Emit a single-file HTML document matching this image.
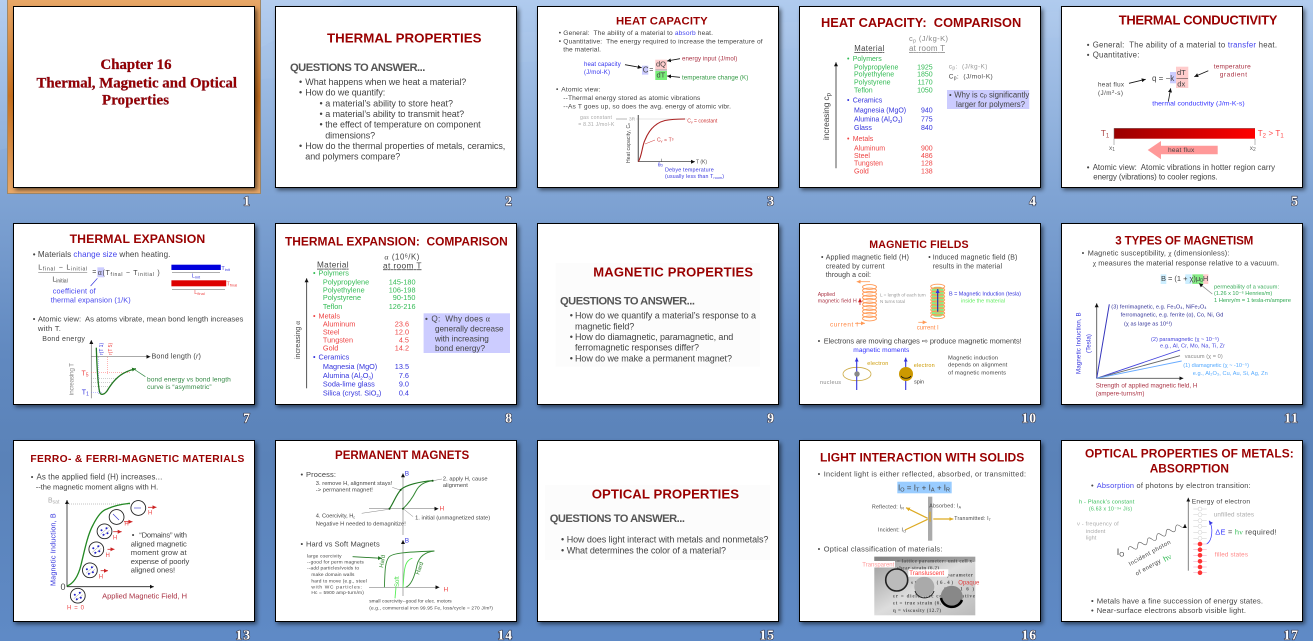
<!DOCTYPE html>
<html><head><meta charset="utf-8"><title>Slide Sorter</title>
<style>
html,body{margin:0;padding:0;width:1313px;height:641px;overflow:hidden;background:#6f96c9}
svg{display:block;font-family:"Liberation Sans",Arial,sans-serif}
text{fill:#444;white-space:pre}
.t{font-weight:bold;fill:#990000}
.q{font-weight:bold;fill:#555}
.n{font-family:"Liberation Serif",serif;font-weight:bold;font-size:13.5px;fill:#fff;text-anchor:end;paint-order:stroke;stroke:#334;stroke-width:1.2px;letter-spacing:1px}
.s{font-family:"Liberation Serif",serif}
.c{filter:url(#soft)}
.u{text-decoration:underline}
.gr{fill:#33bb55}.bl{fill:#3333dd}.re{fill:#ee4444}.mr{fill:#aa3344}.ly{fill:#999}
.e{text-anchor:end}.m{text-anchor:middle}
</style></head><body>
<svg width="1313" height="641" viewBox="0 0 1313 641" xmlns="http://www.w3.org/2000/svg">
<defs>
<linearGradient id="bg" x1="0" y1="0" x2="0" y2="1"><stop offset="0" stop-color="#b0cbee"/><stop offset=".3" stop-color="#80a4d4"/><stop offset=".55" stop-color="#6189c0"/><stop offset=".72" stop-color="#5a82b8"/><stop offset="1" stop-color="#5f8ac6"/></linearGradient>
<linearGradient id="or" x1="0" y1="0" x2="0" y2="1"><stop offset="0" stop-color="#e8a868"/><stop offset=".5" stop-color="#c8701e"/><stop offset="1" stop-color="#e8a868"/></linearGradient>
<linearGradient id="bar" x1="0" y1="0" x2="1" y2="0"><stop offset="0" stop-color="#990000"/><stop offset="1" stop-color="#ff0000"/></linearGradient>
<linearGradient id="im" x1="0" y1="0" x2="1" y2="1"><stop offset="0" stop-color="#999"/><stop offset=".5" stop-color="#ddd"/><stop offset="1" stop-color="#bbb"/></linearGradient>
<filter id="sh" x="-10%" y="-10%" width="120%" height="120%"><feGaussianBlur stdDeviation="2"/></filter>
<filter id="soft" x="-2%" y="-2%" width="104%" height="104%" color-interpolation-filters="sRGB"><feGaussianBlur stdDeviation=".38"/></filter>
<marker id="ak" markerUnits="userSpaceOnUse" markerWidth="5" markerHeight="5" refX="4" refY="2" orient="auto"><path d="M0 0L4 2L0 4Z" fill="#111"/></marker>
<marker id="ab" markerUnits="userSpaceOnUse" markerWidth="5" markerHeight="5" refX="4" refY="2" orient="auto"><path d="M0 0L4 2L0 4Z" fill="#3333dd"/></marker>
<marker id="ar" markerUnits="userSpaceOnUse" markerWidth="5" markerHeight="5" refX="4" refY="2" orient="auto"><path d="M0 0L4 2L0 4Z" fill="#cc2222"/></marker>
<marker id="ao" markerUnits="userSpaceOnUse" markerWidth="5" markerHeight="5" refX="4" refY="2" orient="auto"><path d="M0 0L4 2L0 4Z" fill="#ff9955"/></marker>
<marker id="ag" markerUnits="userSpaceOnUse" markerWidth="5" markerHeight="5" refX="4" refY="2" orient="auto"><path d="M0 0L4 2L0 4Z" fill="#227722"/></marker>
<marker id="ay" markerUnits="userSpaceOnUse" markerWidth="5" markerHeight="5" refX="4" refY="2" orient="auto"><path d="M0 0L4 2L0 4Z" fill="#ddaa22"/></marker>
<g id="coil" fill="none" stroke="#ff9955" stroke-width=".9"><ellipse cx="0" cy="0" rx="7" ry="2.4"/><ellipse cx="0" cy="3.5" rx="7" ry="2.4"/><ellipse cx="0" cy="7" rx="7" ry="2.4"/><ellipse cx="0" cy="10.5" rx="7" ry="2.4"/><ellipse cx="0" cy="14" rx="7" ry="2.4"/><ellipse cx="0" cy="17.5" rx="7" ry="2.4"/><ellipse cx="0" cy="21" rx="7" ry="2.4"/><ellipse cx="0" cy="24.5" rx="7" ry="2.4"/><ellipse cx="0" cy="28" rx="7" ry="2.4"/><ellipse cx="0" cy="31.5" rx="7" ry="2.4"/></g>
<g id="dom"><circle r="7.4" fill="#fff" stroke="#222" stroke-width=".9"/><path d="M-4 3L4 -4M-2 5L5 -1" stroke="#999" stroke-width=".5"/><circle cx="-3" cy="-1" r="1" fill="#22c"/><circle cx="2" cy="-3" r="1" fill="#22c"/><circle cx="3" cy="2" r="1" fill="#22c"/><circle cx="-1" cy="3.5" r="1" fill="#22c"/></g>
<g id="fr"><rect x="2" y="3" width="242" height="181" fill="#000" opacity=".55" filter="url(#sh)"/><rect x=".5" y=".5" width="241" height="181" fill="#fff" stroke="#000" stroke-width="1"/></g>
</defs>
<rect width="1313" height="641" fill="url(#bg)"/>
<path d="M0 150C110 120 250 60 345 0L0 0Z" fill="#fff" opacity=".05"/>
<path d="M250 45C520 30 900 20 1313 0L1313 30C900 40 520 60 250 80Z" fill="#fff" opacity=".03"/>
<rect x="7.5" y="-1" width="253" height="194.5" fill="url(#or)" stroke="#a08868" stroke-width="1"/>

<!-- 1 -->
<g transform="translate(13,6)"><use href="#fr"/>
<g class="c s">
<text class="t s" x="123" y="63" font-size="14.8" text-anchor="middle" textLength="71" style="stroke:#66001a;stroke-width:.25">Chapter 16</text>
<text class="t s" x="23.5" y="81.3" font-size="14.8" textLength="200.5" style="stroke:#66001a;stroke-width:.25">Thermal, Magnetic and Optical</text>
<text class="t s" x="89" y="98.3" font-size="14.8" textLength="67" style="stroke:#66001a;stroke-width:.25">Properties</text>
</g><text class="n" x="238" y="199.7">1</text></g>

<!-- 2 -->
<g transform="translate(275,6)"><use href="#fr"/><g class="c">
<text class="t" x="52" y="36.7" font-size="13.3" textLength="154.5">THERMAL PROPERTIES</text>
<text class="q" x="15" y="65" font-size="11.2" textLength="135.3">QUESTIONS TO ANSWER...</text>
<g font-size="9"><text x="24" y="79">•</text><text x="30.3" y="79" textLength="161">What happens when we heat a material?</text>
<text x="24" y="89.7">•</text><text x="30.3" y="89.7" textLength="80">How do we quantify:</text>
<text x="44.5" y="100.3">•</text><text x="50.2" y="100.3" textLength="127.8">a material’s ability to store heat?</text>
<text x="44.5" y="111">•</text><text x="50.2" y="111" textLength="139">a material’s ability to transmit heat?</text>
<text x="44.5" y="121.7">•</text><text x="50.2" y="121.7" textLength="155.5">the effect of temperature on component</text>
<text x="50.2" y="132.3" textLength="50">dimensions?</text>
<text x="24" y="143">•</text><text x="30.3" y="143" textLength="200">How do the thermal properties of metals, ceramics,</text>
<text x="30.3" y="153.7" textLength="95">and polymers compare?</text></g>
</g><text class="n" x="238" y="199.7">2</text></g>

<!-- 3 -->
<g transform="translate(537,6)"><use href="#fr"/><g class="c">
<text class="t" x="79" y="18.7" font-size="11.3" textLength="91.7">HEAT CAPACITY</text>
<g font-size="6.6"><text x="21.7" y="29">•</text><text x="26.3" y="29" textLength="149.7">General:  The ability of a material to <tspan fill="#4444ee" style="fill:#4444ee">absorb</tspan> heat.</text>
<text x="21.7" y="37.3">•</text><text x="26.3" y="37.3" textLength="199.3">Quantitative:  The energy required to increase the temperature of</text>
<text x="26.3" y="45.7" textLength="37.7">the material.</text>
<text x="19" y="85.7">•</text><text x="24.3" y="85.7" textLength="39">Atomic view:</text>
<text x="26.3" y="94" textLength="137">--Thermal energy stored as atomic vibrations</text>
<text x="26.3" y="102.3" textLength="167.7">--As T goes up, so does the avg. energy of atomic vibr.</text></g>
<text x="47" y="60" font-size="6" style="fill:#3333ee" textLength="36.7">heat capacity</text>
<text x="47" y="68" font-size="6" style="fill:#3333ee" textLength="26">(J/mol-K)</text>
<line x1="88" y1="58.7" x2="104.7" y2="61.7" stroke="#111" stroke-width=".8" marker-end="url(#ak)"/>
<rect x="105" y="59.7" width="6.3" height="9" fill="#ccccff"/>
<text x="105.7" y="66.3" font-size="8">C</text><text x="112.3" y="66" font-size="7">=</text>
<rect x="118.3" y="53.7" width="11.7" height="9.6" fill="#ffcccc"/><rect x="118.3" y="65" width="11.7" height="9" fill="#77ee77"/>
<line x1="118.3" y1="64" x2="130" y2="64" stroke="#222" stroke-width=".5"/>
<text x="119" y="60.6" font-size="7.5">dQ</text><text x="119.5" y="71.7" font-size="7.5">dT</text>
<line x1="143" y1="52.7" x2="130" y2="55" stroke="#111" stroke-width=".8" marker-end="url(#ak)"/>
<line x1="143" y1="71.3" x2="130" y2="70" stroke="#111" stroke-width=".8" marker-end="url(#ak)"/>
<text class="mr" x="145" y="54.7" font-size="6.1" textLength="55.3">energy input (J/mol)</text>
<text x="145" y="73.3" font-size="6.3" style="fill:#339944" textLength="66.3">temperature change (K)</text>
<text x="43" y="113" font-size="5.2" style="fill:#aaa" textLength="32">gas constant</text>
<text x="41.3" y="120" font-size="5.2" style="fill:#aaa" textLength="36">= 8.31 J/mol-K</text>
<line x1="79" y1="113" x2="90" y2="113" stroke="#888" stroke-width=".6"/>
<text x="92" y="114.5" font-size="4.8" style="fill:#999">3R</text>
<line x1="99" y1="113" x2="150" y2="113" stroke="#ccc" stroke-width=".5"/>
<line x1="101.3" y1="109" x2="101.3" y2="155.7" stroke="#666" stroke-width="1.2"/>
<line x1="101.3" y1="155.7" x2="158" y2="155.7" stroke="#222" stroke-width=".7" marker-end="url(#ak)"/>
<text x="159" y="157.5" font-size="5">T (K)</text>
<path d="M101.3 155.7C105 150 105 140 108 134C112 124 118 117 128 114.5C134 113.3 142 113 148 113" fill="none" stroke="#aa2222" stroke-width="1.1"/>
<text x="150.3" y="116.7" font-size="5" style="fill:#cc3333">C<tspan font-size="3.5" dy="1">v</tspan><tspan dy="-1"> = constant</tspan></text>
<text x="120" y="135.7" font-size="5" style="fill:#cc3333">C<tspan font-size="3.5" dy="1">v</tspan><tspan dy="-1"> ∝ T³</tspan></text>
<line x1="108" y1="138" x2="118" y2="134" stroke="#cc3333" stroke-width=".5"/>
<text transform="translate(93,157) rotate(-90)" font-size="5" textLength="40">Heat capacity, C<tspan font-size="3.5">v</tspan></text>
<line x1="124.3" y1="152.7" x2="124.3" y2="155.7" stroke="#555" stroke-width=".5"/>
<text x="120.7" y="160.7" font-size="5" class="bl">θ<tspan font-size="3.5">D</tspan></text>
<text x="128" y="165.3" font-size="5.4" class="bl" textLength="48.7">Debye temperature</text>
<text x="128" y="172" font-size="5.2" class="bl" textLength="59">(usually less than T<tspan font-size="3.5" dy="1">room</tspan><tspan dy="-1">)</tspan></text>
</g><text class="n" x="238" y="199.7">3</text></g>

<!-- 4 -->
<g transform="translate(799,6)"><use href="#fr"/><g class="c">
<text class="t" x="22" y="21" font-size="12.8" textLength="200.3">HEAT CAPACITY:  COMPARISON</text>
<text x="110" y="35" font-size="7.5" style="fill:#888" textLength="39">c<tspan font-size="5" dy="1.5">p</tspan><tspan dy="-1.5"> (J/kg-K)</tspan></text>
<text class="u" x="110" y="45" font-size="8" style="fill:#888" textLength="36">at room T</text>
<text class="u" x="55.3" y="45" font-size="7.8" textLength="30">Material</text>
<g font-size="7">
<text class="gr" x="48" y="55">•</text><text class="gr" x="53.7" y="55" textLength="29">Polymers</text>
<text class="gr" x="55" y="63.3">Polypropylene</text><text class="gr e" x="133.7" y="63.3">1925</text>
<text class="gr" x="55" y="70.7">Polyethylene</text><text class="gr e" x="133.7" y="70.7">1850</text>
<text class="gr" x="55" y="78.3">Polystyrene</text><text class="gr e" x="133.7" y="78.3">1170</text>
<text class="gr" x="55" y="86.3">Teflon</text><text class="gr e" x="133.7" y="86.3">1050</text>
<text class="bl" x="48" y="96.3">•</text><text class="bl" x="53.7" y="96.3">Ceramics</text>
<text class="bl" x="55" y="106.3">Magnesia (MgO)</text><text class="bl e" x="133.7" y="106.3">940</text>
<text class="bl" x="55" y="115.3">Alumina (Al<tspan font-size="4.5" dy="1.5">2</tspan><tspan dy="-1.5">O</tspan><tspan font-size="4.5" dy="1.5">3</tspan><tspan dy="-1.5">)</tspan></text><text class="bl e" x="133.7" y="115.3">775</text>
<text class="bl" x="55" y="124">Glass</text><text class="bl e" x="133.7" y="124">840</text>
<text class="re" x="48" y="135">•</text><text class="re" x="53.7" y="135">Metals</text>
<text class="re" x="55" y="144.3">Aluminum</text><text class="re e" x="133.7" y="144.3">900</text>
<text class="re" x="55" y="152">Steel</text><text class="re e" x="133.7" y="152">486</text>
<text class="re" x="55" y="159.7">Tungsten</text><text class="re e" x="133.7" y="159.7">128</text>
<text class="re" x="55" y="167.7">Gold</text><text class="re e" x="133.7" y="167.7">138</text>
</g>
<line x1="37" y1="162.3" x2="37" y2="56.3" stroke="#555" stroke-width="1" marker-end="url(#ak)"/>
<text transform="translate(30,134) rotate(-90)" font-size="8.4" textLength="47">increasing c<tspan font-size="6" dy="1.5">p</tspan></text>
<text x="149.7" y="62.3" font-size="6.5" style="fill:#999" textLength="38.7">c<tspan font-size="5" dy="1">p</tspan><tspan dy="-1">:  (J/kg-K)</tspan></text>
<text x="149.7" y="72.7" font-size="6.5" textLength="44">C<tspan font-size="5" dy="1">p</tspan><tspan dy="-1">:  (J/mol-K)</tspan></text>
<rect x="148" y="84" width="82.3" height="19" fill="#ccccff"/>
<text x="150" y="91.7" font-size="7.5">•</text><text x="155.3" y="91.7" font-size="7.8" textLength="75">Why is c<tspan font-size="5.5">p</tspan> significantly</text>
<text x="157" y="101" font-size="7.8" textLength="69">larger for polymers?</text>
</g><text class="n" x="238" y="199.7">4</text></g>

<!-- 5 -->
<g transform="translate(1061,6)"><use href="#fr"/><g class="c">
<text class="t" x="57.7" y="18.3" font-size="13" textLength="158.7">THERMAL CONDUCTIVITY</text>
<g font-size="7.8"><text x="25.7" y="41.3">•</text><text x="31.7" y="41.3" textLength="184.3">General:  The ability of a material to <tspan style="fill:#4444ee">transfer</tspan> heat.</text>
<text x="25.7" y="51.3">•</text><text x="31.7" y="51.3" textLength="46.7">Quantitative:</text>
<text x="25.7" y="164">•</text><text x="31.7" y="164" textLength="182.3">Atomic view:  Atomic vibrations in hotter region carry</text>
<text x="32.3" y="173.7" textLength="124.3">energy (vibrations) to cooler regions.</text></g>
<rect x="109" y="66" width="6" height="11.3" fill="#ccccff"/><rect x="115" y="60.7" width="12.3" height="21.3" fill="#ffcccc"/>
<text x="91" y="75" font-size="8">q = −k</text>
<text x="116" y="69" font-size="7.5">dT</text><line x1="115.5" y1="72.3" x2="127" y2="72.3" stroke="#333" stroke-width=".5"/><text x="116.3" y="80.7" font-size="7.5">dx</text>
<text x="37" y="80.7" font-size="6.3" textLength="26">heat flux</text>
<text x="37" y="89" font-size="6.3" textLength="25">(J/m<tspan font-size="4.2" dy="-2">2</tspan><tspan dy="2">-s)</tspan></text>
<line x1="68" y1="77.3" x2="84.7" y2="73.3" stroke="#111" stroke-width=".8" marker-end="url(#ak)"/>
<text class="mr" x="152.7" y="62.3" font-size="6.5" textLength="37">temperature</text>
<text class="mr" x="158.7" y="70.7" font-size="6.5" textLength="27.3">gradient</text>
<line x1="147.3" y1="64.7" x2="133.3" y2="70.7" stroke="#111" stroke-width=".8" marker-end="url(#ak)"/>
<line x1="107.3" y1="95.7" x2="109.7" y2="82.3" stroke="#111" stroke-width=".8" marker-end="url(#ak)"/>
<text x="91.3" y="99.7" font-size="6.8" style="fill:#3333ff" textLength="92.3">thermal conductivity (J/m-K-s)</text>
<rect x="53" y="122.3" width="141" height="10.4" fill="url(#bar)"/>
<path d="M53 139V122.3H194M194 132.7V139" fill="none" stroke="#777" stroke-width=".5"/>
<text x="39.7" y="130" font-size="8.5" style="fill:#aa4444">T<tspan font-size="6" dy="1.5">1</tspan></text>
<text x="196.7" y="130" font-size="8" style="fill:#ff4444" textLength="26">T<tspan font-size="6" dy="1.5">2</tspan><tspan dy="-1.5"> &gt; T</tspan><tspan font-size="6" dy="1.5">1</tspan></text>
<text x="48" y="144" font-size="6.5" style="fill:#666">x<tspan font-size="5" dy="1">1</tspan></text>
<text x="188.7" y="144" font-size="6.5" style="fill:#666">x<tspan font-size="5" dy="1">2</tspan></text>
<path d="M86.7 144L100 135V139.7H156.7V148.3H100V153.3Z" fill="#ff9999"/>
<text x="107" y="146" font-size="6.6" textLength="26.3">heat flux</text>
</g><text class="n" x="238" y="199.7">5</text></g>

<!-- 7 -->
<g transform="translate(13,223)"><use href="#fr"/><g class="c">
<text class="t" x="56.6" y="20" font-size="12.25" textLength="135.6">THERMAL EXPANSION</text>
<text x="19.8" y="34" font-size="8">•</text><text x="24.9" y="34" font-size="8.1" textLength="132.5">Materials <tspan style="fill:#4444ee">change size</tspan> when heating.</text>
<text x="25.2" y="46.3" font-size="7" textLength="49">L<tspan font-size="5" dy="1">final</tspan><tspan dy="-1"> − L</tspan><tspan font-size="5" dy="1">initial</tspan></text>
<line x1="25.2" y1="49.3" x2="74.2" y2="49.3" stroke="#666" stroke-width=".5"/>
<text x="39.4" y="58.3" font-size="7">L<tspan font-size="5" dy="1">initial</tspan></text>
<rect x="84.4" y="44.3" width="6.7" height="10" fill="#ccccff"/>
<text x="79.3" y="51" font-size="7">=</text>
<text x="84.7" y="52" font-size="7" textLength="62">α(T<tspan font-size="5" dy="1">final</tspan><tspan dy="-1"> − T</tspan><tspan font-size="5" dy="1">initial</tspan><tspan dy="-1"> )</tspan></text>
<line x1="84.4" y1="55.3" x2="77.6" y2="63" stroke="#3333dd" stroke-width=".7"/>
<text x="39.7" y="70.7" font-size="7.3" style="fill:#4444ee" textLength="43">coefficient of</text>
<text x="37.7" y="79.7" font-size="7.3" style="fill:#4444ee" textLength="80">thermal expansion (1/K)</text>
<rect x="158.4" y="41.7" width="49.4" height="5.3" fill="#0000dd"/>
<text x="208.4" y="47" font-size="5.5" class="bl">T<tspan font-size="4" dy="1">init</tspan></text>
<line x1="159" y1="49.7" x2="207" y2="49.7" stroke="#333" stroke-width=".4"/>
<text class="bl m" x="183" y="54.3" font-size="5.5">L<tspan font-size="4" dy="1">init</tspan></text>
<rect x="158.4" y="57.3" width="54.8" height="6" fill="#dd0000"/>
<text x="213.5" y="62.7" font-size="5.5" class="re">T<tspan font-size="4" dy="1">final</tspan></text>
<line x1="159" y1="66.3" x2="212" y2="66.3" stroke="#333" stroke-width=".4"/>
<text class="re m" x="186.5" y="71" font-size="5.5">L<tspan font-size="4" dy="1">final</tspan></text>
<text x="19.8" y="98.7" font-size="7.5">•</text><text x="24.9" y="98.7" font-size="7.7" textLength="205.5">Atomic view:  As atoms vibrate, mean bond length increases</text>
<text x="24.9" y="108" font-size="7.7" textLength="23">with T.</text>
<text x="29.3" y="118" font-size="7" textLength="42.6">Bond energy</text>
<line x1="78.3" y1="175.3" x2="78.3" y2="117" stroke="#777" stroke-width=".7" marker-end="url(#ak)"/>
<line x1="78.3" y1="133.7" x2="137.4" y2="133.7" stroke="#777" stroke-width=".7" marker-end="url(#ak)"/>
<text x="138.5" y="135.7" font-size="7.2" textLength="49.4">Bond length (<tspan font-style="italic">r</tspan>)</text>
<text transform="translate(90,132) rotate(-90)" font-size="5" class="bl">r(T 1)</text>
<text transform="translate(99,132) rotate(-90)" font-size="5" class="re">r(T 5)</text>
<line x1="85.7" y1="134" x2="85.7" y2="172" stroke="#66f" stroke-width=".4" stroke-dasharray="1 1"/>
<line x1="94.5" y1="134" x2="94.5" y2="152" stroke="#f44" stroke-width=".4" stroke-dasharray="1 1"/>
<g stroke-width=".4" stroke-dasharray="1 1" fill="none"><line x1="78" y1="149.7" x2="118" y2="149.7" stroke="#f44"/><line x1="78" y1="155.3" x2="104" y2="155.3" stroke="#888"/><line x1="78" y1="159.7" x2="100" y2="159.7" stroke="#888"/><line x1="78" y1="163.7" x2="97" y2="163.7" stroke="#888"/><line x1="78" y1="169.7" x2="90" y2="169.7" stroke="#66f"/></g>
<text x="68.5" y="152.3" font-size="7" class="re">T<tspan font-size="5" dy="1">5</tspan></text>
<text x="68.8" y="171.3" font-size="7" class="bl">T<tspan font-size="5" dy="1">1</tspan></text>
<text transform="translate(60.7,172) rotate(-90)" font-size="6.4" style="fill:#888" textLength="32">increasing T</text>
<path d="M83.3 124.7C84 145 85 165 87 170C88 172 91 172 94 168C100 158 107 149 123 145.8" fill="none" stroke="#227722" stroke-width="1.3" marker-end="url(#ag)"/>
<line x1="132.4" y1="153.7" x2="121.5" y2="146.5" stroke="#338844" stroke-width=".7"/>
<text x="134" y="158.7" font-size="6.6" style="fill:#338844" textLength="83.8">bond energy vs bond length</text>
<text x="134" y="166" font-size="6.6" style="fill:#338844" textLength="64.6">curve is “asymmetric”</text>
</g><text class="n" x="238" y="199.7">7</text></g>

<!-- 8 -->
<g transform="translate(275,223)"><use href="#fr"/><g class="c">
<text class="t" x="10" y="22.3" font-size="11.95" textLength="222.8">THERMAL EXPANSION:  COMPARISON</text>
<text x="109.4" y="36.3" font-size="7.8" textLength="35"><tspan class="s">α</tspan> (10<tspan font-size="5" dy="-2">6</tspan><tspan dy="2">/K)</tspan></text>
<text class="u" x="108" y="45.3" font-size="8.4" textLength="38.5">at room T</text>
<text class="u" x="42" y="44.7" font-size="8.2" textLength="31.6">Material</text>
<g font-size="7.3">
<text class="gr" x="38" y="52.7">•</text><text class="gr" x="43.5" y="52.7">Polymers</text>
<text class="gr" x="47.9" y="61.7">Polypropylene</text><text class="gr e" x="140.5" y="61.7">145-180</text>
<text class="gr" x="47.9" y="69.3">Polyethylene</text><text class="gr e" x="140.5" y="69.3">106-198</text>
<text class="gr" x="47.9" y="77">Polystyrene</text><text class="gr e" x="140.5" y="77">90-150</text>
<text class="gr" x="47.9" y="86">Teflon</text><text class="gr e" x="140.5" y="86">126-216</text>
<text class="re" x="38" y="95.7">•</text><text class="re" x="43.5" y="95.7">Metals</text>
<text class="re" x="47.9" y="103.7">Aluminum</text><text class="re e" x="134" y="103.7">23.6</text>
<text class="re" x="47.9" y="111.3">Steel</text><text class="re e" x="134" y="111.3">12.0</text>
<text class="re" x="47.9" y="119.3">Tungsten</text><text class="re e" x="134" y="119.3">4.5</text>
<text class="re" x="47.9" y="127.3">Gold</text><text class="re e" x="134" y="127.3">14.2</text>
<text class="bl" x="38" y="136.3">•</text><text class="bl" x="43.5" y="136.3">Ceramics</text>
<text class="bl" x="47.9" y="146">Magnesia (MgO)</text><text class="bl e" x="134" y="146">13.5</text>
<text class="bl" x="47.9" y="155">Alumina (Al<tspan font-size="4.5" dy="1.5">2</tspan><tspan dy="-1.5">O</tspan><tspan font-size="4.5" dy="1.5">3</tspan><tspan dy="-1.5">)</tspan></text><text class="bl e" x="134" y="155">7.6</text>
<text class="bl" x="47.9" y="163.3">Soda-lime glass</text><text class="bl e" x="134" y="163.3">9.0</text>
<text class="bl" x="47.9" y="172.3">Silica (cryst. SiO<tspan font-size="4.5" dy="1.5">2</tspan><tspan dy="-1.5">)</tspan></text><text class="bl e" x="134" y="172.3">0.4</text>
</g>
<line x1="31.6" y1="165.3" x2="31.6" y2="55.3" stroke="#555" stroke-width="1" marker-end="url(#ak)"/>
<text transform="translate(24.9,136) rotate(-90)" font-size="7.2" textLength="38">increasing <tspan class="s">α</tspan></text>
<rect x="148.6" y="90.3" width="86.4" height="39.7" fill="#ccccff"/>
<g font-size="8.2"><text x="150" y="98.7">•</text><text x="156.4" y="98.7" textLength="58.5">Q:  Why does <tspan class="s">α</tspan></text>
<text x="160" y="108.3" textLength="68.6">generally decrease</text>
<text x="160" y="118.3" textLength="53.8">with increasing</text>
<text x="160" y="128" textLength="50">bond energy?</text></g>
</g><text class="n" x="238" y="199.7">8</text></g>

<!-- 9 -->
<g transform="translate(537,223)"><use href="#fr"/><rect x="18.7" y="40" width="204.3" height="103.7" fill="#fcfcfc"/><g class="c">
<text class="t" x="56.3" y="53.3" font-size="13" textLength="159.7">MAGNETIC PROPERTIES</text>
<text class="q" x="23" y="81.3" font-size="11.15" textLength="135">QUESTIONS TO ANSWER...</text>
<g font-size="9"><text x="32.7" y="95.7">•</text><text x="38" y="95.7" textLength="181">How do we quantify a material’s response to a</text>
<text x="38" y="106.3" textLength="59.3">magnetic field?</text>
<text x="32.7" y="117">•</text><text x="38" y="117" textLength="158.3">How do diamagnetic, paramagnetic, and</text>
<text x="38" y="127.7" textLength="124">ferromagnetic responses differ?</text>
<text x="32.7" y="138.3">•</text><text x="38" y="138.3" textLength="157">How do we make a permanent magnet?</text></g>
</g><text class="n" x="238" y="199.7">9</text></g>

<!-- 10 -->
<g transform="translate(799,223)"><use href="#fr"/><g class="c">
<text class="t" x="70.3" y="25" font-size="10.6" textLength="99.3">MAGNETIC FIELDS</text>
<g font-size="7"><text x="22" y="36.7">•</text><text x="26.7" y="36.7" textLength="83.3">Applied magnetic field (H)</text>
<text x="26.7" y="45.3" textLength="58.7">created by current</text>
<text x="26.7" y="54" textLength="45.3">through a coil:</text>
<text x="129.3" y="36.7">•</text><text x="133.7" y="36.7" textLength="84.7">Induced magnetic field (B)</text>
<text x="133.7" y="45.3" textLength="69.3">results in the material</text>
<text x="18.7" y="120.3">•</text><text x="24.7" y="120.3" font-size="7.4" textLength="198">Electrons are moving charges ⇨ produce magnetic moments!</text></g>
<use href="#coil" transform="translate(70.5,64)"/>
<line x1="71" y1="58.7" x2="57.7" y2="58.7" stroke="#ff9955" stroke-width=".8" marker-end="url(#ao)"/>
<line x1="56" y1="100.3" x2="66" y2="100.3" stroke="#ff9955" stroke-width=".8" marker-end="url(#ao)"/>
<text x="31" y="103.3" font-size="6.4" style="fill:#ff8844" textLength="28">current I</text>
<text class="mr" x="18.7" y="73" font-size="5.2">Applied</text>
<text class="mr" x="18.7" y="79.7" font-size="5.2" textLength="39">magnetic field H</text>
<line x1="61" y1="82" x2="61" y2="75.3" stroke="#cc2222" stroke-width=".8" marker-end="url(#ar)"/>
<text x="81" y="73.7" font-size="4.6" style="fill:#999" textLength="45.7">L = length of each turn</text>
<text x="81" y="80" font-size="4.6" style="fill:#999" textLength="25">N turns total</text>
<rect x="132.7" y="63.7" width="12" height="30" rx="4" fill="#88ee88"/>
<use href="#coil" transform="translate(138.7,63.5) scale(1,.95)"/>
<line x1="138.7" y1="88.7" x2="138.7" y2="66" stroke="#2222aa" stroke-width="1.1" marker-end="url(#ab)"/>
<line x1="119.3" y1="99.3" x2="127.7" y2="99.3" stroke="#ff9955" stroke-width=".8" marker-end="url(#ao)"/>
<text x="117.7" y="106.7" font-size="6" style="fill:#ff8844" textLength="22">current I</text>
<text x="150" y="72.3" font-size="5.5" class="bl" textLength="72">B = Magnetic Induction (tesla)</text>
<text x="162" y="79.3" font-size="5.5" style="fill:#66ee66" textLength="44">inside the material</text>
<text x="54.3" y="129" font-size="6.6" style="fill:#3333ff" textLength="56">magnetic moments</text>
<ellipse cx="58" cy="151" rx="14" ry="6.7" fill="none" stroke="#ccaa44" stroke-width=".8"/>
<line x1="57.7" y1="167" x2="57.7" y2="134.7" stroke="#3333dd" stroke-width="1.1" marker-end="url(#ab)"/>
<circle cx="58" cy="151" r="2.7" fill="#888"/>
<text x="68.3" y="142" font-size="5.5" style="fill:#cc9900" textLength="21">electron</text>
<text x="21" y="161" font-size="5.5" style="fill:#888" textLength="21">nucleus</text>
<line x1="106.7" y1="167" x2="106.7" y2="134.7" stroke="#3333dd" stroke-width="1.1" marker-end="url(#ab)"/>
<circle cx="107" cy="151" r="7" fill="#cc9900"/>
<path d="M102 153C104 156 110 156 112 153" fill="none" stroke="#111" stroke-width=".8"/>
<text x="114.7" y="144" font-size="5.5" style="fill:#cc9900" textLength="21">electron</text>
<text x="115" y="160.3" font-size="5.5">spin</text>
<g font-size="5.8"><text x="149" y="136.3" textLength="50">Magnetic induction</text><text x="149" y="143.7" textLength="59.3">depends on alignment</text><text x="149" y="151.3" textLength="58">of magnetic moments</text></g>
</g><text class="n" x="238" y="199.7">10</text></g>

<!-- 11 -->
<g transform="translate(1061,223)"><use href="#fr"/><g class="c">
<text class="t" x="54.3" y="21.7" font-size="11.6" textLength="138">3 TYPES OF MAGNETISM</text>
<text x="20.7" y="32.3" font-size="7">•</text><text x="26.7" y="32.3" font-size="7.3" textLength="141.7">Magnetic susceptibility, <tspan class="s">χ</tspan> (dimensionless):</text>
<text x="31.7" y="42.7" font-size="7.4" textLength="186.3"><tspan class="s">χ</tspan> measures the material response relative to a vacuum.</text>
<rect x="99.7" y="51.3" width="5.6" height="9.7" fill="#cceeff"/><rect x="124.3" y="51.3" width="6.4" height="9.7" fill="#cceeff"/><rect x="131.3" y="51.3" width="11" height="9.7" fill="#88ee88"/><rect x="142.3" y="51.3" width="5" height="9.7" fill="#ffcccc"/>
<text x="100" y="58" font-size="7.5" textLength="47.3">B = (1 + χ)μ<tspan font-size="5" dy="1">0</tspan><tspan dy="-1">H</tspan></text>
<line x1="151.3" y1="71" x2="138" y2="60.3" stroke="#888" stroke-width=".7" marker-end="url(#ak)"/>
<g font-size="5.6"><text x="153" y="65.3" style="fill:#33aa55" textLength="65">permeability of a vacuum:</text>
<text x="153" y="72" style="fill:#33aa55" textLength="58.3">(1.26 x 10⁻⁶ Henries/m)</text>
<text x="153" y="79" font-size="5.9" style="fill:#33aa55" textLength="77">1 Henry/m = 1 tesla-m/ampere</text>
<text x="50.3" y="85.3" style="fill:#333399" textLength="95.3">(3) ferrimagnetic, e.g. Fe₃O₄, NiFe₂O₄</text>
<text x="59.7" y="93.7" style="fill:#333399" textLength="102.7">ferromagnetic, e.g. ferrite (α), Co, Ni, Gd</text>
<text x="63" y="102.7" style="fill:#333399" textLength="48">(χ as large as 10⁶!)</text>
<text x="90" y="118" style="fill:#4444dd" textLength="68">(2) paramagnetic (χ ~ 10⁻⁵)</text>
<text x="99" y="124.3" style="fill:#4444dd" textLength="65">e.g., Al, Cr, Mo, Na, Ti, Zr</text>
<text x="123.7" y="135" style="fill:#888" textLength="38">vacuum (χ = 0)</text>
<text x="122.3" y="144" style="fill:#55aaff" textLength="65.7">(1) diamagnetic (χ ~ -10⁻⁵)</text>
<text x="131.7" y="152" style="fill:#55aaff" textLength="75">e.g., Al₂O₃, Cu, Au, Si, Ag, Zn</text></g>
<line x1="35.7" y1="155.3" x2="35.7" y2="80.3" stroke="#555" stroke-width=".9" marker-end="url(#ak)"/>
<line x1="35.7" y1="155.3" x2="122.3" y2="155.3" stroke="#555" stroke-width=".9" marker-end="url(#ak)"/>
<line x1="35.7" y1="155.3" x2="48.3" y2="81.3" stroke="#3333bb" stroke-width="1"/>
<line x1="35.7" y1="155.3" x2="119" y2="127" stroke="#4444dd" stroke-width=".9"/>
<line x1="35.7" y1="155.3" x2="119" y2="132.7" stroke="#666" stroke-width=".9"/>
<line x1="35.7" y1="155.3" x2="120.7" y2="138" stroke="#66aaff" stroke-width=".9"/>
<text transform="translate(19.7,151) rotate(-90)" font-size="6.2" class="bl" textLength="61.7">Magnetic Induction, B</text>
<text transform="translate(29.7,130) rotate(-90)" font-size="6.2" class="bl" textLength="19">(Tesla)</text>
<text class="mr" x="34.7" y="164.3" font-size="6.2" textLength="101.7">Strength of applied magnetic field, H</text>
<text class="mr" x="34.7" y="172.7" font-size="6.2" textLength="48.7">(ampere-turns/m)</text>
</g><text class="n" x="238" y="199.7">11</text></g>

<!-- 13 -->
<g transform="translate(13,440)"><use href="#fr"/><g class="c">
<text class="t" x="17.4" y="22" font-size="10.25" textLength="214">FERRO- &amp; FERRI-MAGNETIC MATERIALS</text>
<text x="17.8" y="39.7" font-size="7.5">•</text><text x="23.5" y="39.7" font-size="7.9" textLength="125.8">As the applied field (H) increases...</text>
<text x="22.8" y="49.3" font-size="7.6" textLength="122.4">--the magnetic moment aligns with H.</text>
<line x1="54" y1="146.7" x2="54" y2="60" stroke="#222" stroke-width=".8" marker-end="url(#ak)"/>
<line x1="54" y1="146.7" x2="140.8" y2="146.7" stroke="#222" stroke-width=".8" marker-end="url(#ak)"/>
<text x="47.5" y="150" font-size="9">0</text>
<text x="35" y="62.7" font-size="7" style="fill:#aaa">B<tspan font-size="5" dy="1">sat</tspan></text>
<line x1="54" y1="64" x2="117" y2="64" stroke="#888" stroke-width=".5" stroke-dasharray="1 1"/>
<path d="M54 146C62 143 66 133 68 125C72 108 75 94 80 85C85 75 90 70 94 69C102 65 110 64 117 63.3" fill="none" stroke="#228822" stroke-width="1.3"/>
<text transform="translate(42.4,146) rotate(-90)" font-size="7.2" class="bl" textLength="72.7">Magnetic Induction, B</text>
<use href="#dom" x="64.8" y="155.7"/><use href="#dom" x="76.9" y="130.3"/><use href="#dom" x="83.3" y="109.3"/><use href="#dom" x="91.5" y="91.3"/>
<circle cx="103.6" cy="77" r="7.4" fill="#fff" stroke="#222" stroke-width=".9"/><line x1="100" y1="74" x2="106" y2="80" stroke="#33c" stroke-width=".6"/>
<circle cx="125.3" cy="68" r="7.4" fill="#fff" stroke="#222" stroke-width=".9"/><line x1="121" y1="68" x2="128" y2="68" stroke="#33c" stroke-width=".6"/>
<g stroke="#cc2222" stroke-width=".8"><line x1="87.7" y1="130.7" x2="95" y2="130.7" marker-end="url(#ar)"/><line x1="94.5" y1="109.3" x2="101.5" y2="109.3" marker-end="url(#ar)"/><line x1="100.2" y1="91.7" x2="108.7" y2="91.7" marker-end="url(#ar)"/><line x1="111" y1="81.7" x2="119.5" y2="81.7" marker-end="url(#ar)"/><line x1="135" y1="67.3" x2="143.5" y2="67.3" marker-end="url(#ar)"/></g>
<g font-size="6"><text class="re" x="85.7" y="138.3">H</text><text class="re" x="92.5" y="117">H</text><text class="re" x="99.9" y="99.7">H</text><text class="re" x="111.4" y="85.3">H</text><text class="re" x="135" y="74.7">H</text>
<text class="re" x="54" y="169.7" textLength="17">H = 0</text></g>
<text class="mr" x="89.1" y="158.7" font-size="7.5" textLength="84.9">Applied Magnetic Field, H</text>
<g font-size="7.6"><text x="118.8" y="97.3">•</text><text x="126.3" y="97.3" textLength="47.7">“Domains” with</text>
<text x="117.8" y="106.3" textLength="56">aligned magnetic</text>
<text x="117.8" y="115" textLength="55.8">moment grow at</text>
<text x="117.8" y="124" textLength="58.5">expense of poorly</text>
<text x="117.8" y="132.7" textLength="44.3">aligned ones!</text></g>
</g><text class="n" x="238" y="199.7">13</text></g>

<!-- 14 -->
<g transform="translate(275,440)"><use href="#fr"/><g class="c">
<text class="t" x="60" y="19" font-size="11.56" textLength="134.2">PERMANENT MAGNETS</text>
<text x="25.5" y="37" font-size="7.5">•</text><text x="31" y="37" font-size="7.5" textLength="30">Process:</text>
<g font-size="5.7"><text x="40.8" y="45" textLength="76.4">3. remove H, alignment stays!</text>
<text x="40.8" y="51.7" textLength="57">-&gt; permanent magnet!</text>
<text x="167.9" y="40.3" textLength="44.6">2. apply H, cause</text><text x="167.9" y="47" textLength="25">alignment</text>
<text x="40.8" y="77.3" textLength="39.2">4. Coercivity, H<tspan font-size="3.5" dy="1">c</tspan></text>
<text x="40.8" y="85.7" textLength="90">Negative H needed to demagnitize!</text>
<text x="140.1" y="79.3" textLength="75">1. initial (unmagnetized state)</text></g>
<line x1="128" y1="95" x2="128" y2="33.3" stroke="#888" stroke-width=".7" marker-end="url(#ak)"/>
<line x1="94" y1="68.7" x2="163.5" y2="68.7" stroke="#888" stroke-width=".7" marker-end="url(#ak)"/>
<text x="129.7" y="35.7" font-size="6.5" class="bl">B</text><text x="164.5" y="70.3" font-size="6.5" class="re">H</text>
<path d="M128 68.7C135 62 138 57 141 51C144 45 150 41.5 157.7 40.7" fill="none" stroke="#338833" stroke-width="1"/>
<path d="M114.5 68.7C119 62 121 55 126 49.5C131 45 145 41.5 157.7 40.7" fill="none" stroke="#227722" stroke-width="1.2"/>
<g fill="#115511"><circle cx="157.7" cy="40.7" r="1"/><circle cx="125.6" cy="50" r="1"/><circle cx="114.5" cy="68.7" r="1"/><circle cx="128" cy="68.7" r="1"/></g>
<g stroke="#666" stroke-width=".4"><line x1="167" y1="39" x2="159" y2="40.5"/><line x1="117.2" y1="47.3" x2="125" y2="50"/><line x1="86.7" y1="73.3" x2="113.9" y2="69.3"/><line x1="138.1" y1="76.7" x2="128.9" y2="69.3"/></g>
<text x="25.5" y="106.7" font-size="7.5">•</text><text x="31" y="106.7" font-size="7.5" textLength="73.7">Hard vs Soft Magnets</text>
<line x1="128" y1="156" x2="128" y2="100" stroke="#888" stroke-width=".7" marker-end="url(#ak)"/>
<line x1="94" y1="147.3" x2="164.5" y2="147.3" stroke="#888" stroke-width=".7" marker-end="url(#ak)"/>
<text x="129.7" y="102.7" font-size="6.5" class="bl">B</text><text x="168.5" y="151.7" font-size="6.5" class="re">H</text>
<path d="M109.4 147.3C110 130 110 122 114 117C118 112.5 135 112 159.4 111" fill="none" stroke="#338833" stroke-width=".9"/>
<path d="M130.7 147.3C137 145 140 135 142 125C144 117 150 112 159.4 111" fill="none" stroke="#338833" stroke-width=".9"/>
<path d="M128 147.3C129 135 129 125 133 121C135 119 136 118.5 137.4 118.3" fill="none" stroke="#55ee55" stroke-width=".9"/>
<text transform="translate(108,128) rotate(-80)" font-size="6" style="fill:#338833">Hard</text>
<text transform="translate(144,135) rotate(-70)" font-size="6" style="fill:#338833">Hard</text>
<text transform="translate(124,147) rotate(-90)" font-size="6" style="fill:#44dd44">Soft</text>
<line x1="77.6" y1="116.7" x2="107" y2="118.3" stroke="#227722" stroke-width=".8" marker-end="url(#ag)"/>
<line x1="120" y1="158.3" x2="121" y2="147" stroke="#55ee55" stroke-width=".9"/>
<g font-size="4.8"><text x="32" y="117.3" textLength="34.5">large coercivity</text>
<text x="32" y="123.7" textLength="56.8">--good for perm magnets</text>
<text x="32" y="129.7" textLength="52">--add particles/voids to</text>
<text x="36.4" y="136" textLength="43">make domain walls</text>
<text x="36.4" y="142.3" textLength="55.4">hard to move (e.g., steel</text>
<text x="36.4" y="148.3" textLength="50.4">with WC particles:</text>
<text x="36.4" y="154" textLength="52.4">Hc = 5900 amp-turn/m)</text>
<text x="94.2" y="162.7" textLength="82.5">small coercivity--good for elec. motors</text>
<text x="94.2" y="169.3" textLength="123.7">(e.g., commercial iron 99.95 Fe, loss/cycle = 270 J/m³)</text></g>
</g><text class="n" x="238" y="199.7">14</text></g>

<!-- 15 -->
<g transform="translate(537,440)"><use href="#fr"/><rect x="8" y="45" width="225" height="75" fill="#fcfcfc"/><g class="c">
<text class="t" x="54.7" y="58.3" font-size="13.2" textLength="147.3">OPTICAL PROPERTIES</text>
<text class="q" x="12.7" y="82" font-size="11.15" textLength="135.3">QUESTIONS TO ANSWER...</text>
<g font-size="9"><text x="24" y="102.7">•</text><text x="29.7" y="102.7" textLength="201.7">How does light interact with metals and nonmetals?</text>
<text x="24" y="113.3">•</text><text x="29.7" y="113.3" textLength="159.3">What determines the color of a material?</text></g>
</g><text class="n" x="238" y="199.7">15</text></g>

<!-- 16 -->
<g transform="translate(799,440)"><use href="#fr"/><g class="c">
<text class="t" x="21" y="21.3" font-size="12.05" textLength="204.3">LIGHT INTERACTION WITH SOLIDS</text>
<text x="18.7" y="36.3" font-size="7">•</text><text x="24.7" y="36.3" font-size="7.3" textLength="202.3">Incident light is either reflected, absorbed, or transmitted:</text>
<rect x="98.3" y="41.7" width="54.4" height="11.6" fill="#99ccff"/>
<text x="99" y="50.3" font-size="8" textLength="52">I<tspan font-size="5.5" dy="1">O</tspan><tspan dy="-1"> = I</tspan><tspan font-size="5.5" dy="1">T</tspan><tspan dy="-1"> + I</tspan><tspan font-size="5.5" dy="1">A</tspan><tspan dy="-1"> + I</tspan><tspan font-size="5.5" dy="1">R</tspan></text>
<rect x="129" y="56.7" width="4.3" height="44" fill="#aaa"/>
<g stroke="#ddaa22" stroke-width="1.2" fill="none"><line x1="106" y1="90" x2="128.7" y2="79.3"/><line x1="128.7" y1="78.3" x2="107" y2="67.7" marker-end="url(#ay)"/><line x1="134.3" y1="79" x2="154.3" y2="79" marker-end="url(#ay)"/><line x1="131" y1="71.7" x2="131" y2="81.7"/></g>
<g font-size="5.2"><text x="130.3" y="67.7" textLength="31.7">Absorbed: I<tspan font-size="3.6" dy="1">A</tspan></text>
<text x="73" y="68.3" textLength="32">Reflected: I<tspan font-size="3.6" dy="1">R</tspan></text>
<text x="155.3" y="80" textLength="36.7">Transmitted: I<tspan font-size="3.6" dy="1">T</tspan></text>
<text x="79" y="91.3" textLength="28">Incident: I<tspan font-size="3.6" dy="1">O</tspan></text></g>
<text x="18.7" y="111.7" font-size="7">•</text><text x="24.7" y="111.7" font-size="7.4" textLength="118.7">Optical classification of materials:</text>
<rect x="75.3" y="116.7" width="101" height="58.6" fill="url(#im)"/>
<rect x="75.3" y="116.7" width="101" height="5" fill="#777" opacity=".6"/>
<g font-size="5" font-weight="bold"><text class="s" x="98" y="122.7" style="fill:#555" textLength="77">= lattice parameter: unit cell x-</text>
<text class="s" x="98" y="129.3" style="fill:#555" textLength="42">shear strain (6.2)</text>
<text class="s" x="130" y="136.7" style="fill:#555" textLength="44">lattice parameter</text>
<text class="s" x="112" y="144" style="fill:#555" textLength="42">strain (6.4)</text>
<text class="s" x="145" y="150.7" style="fill:#555" textLength="30">(8.16)</text>
<text class="s" x="94" y="157.7" style="fill:#555" textLength="82">εr = dielectric const relative</text>
<text class="s" x="94" y="164.7" style="fill:#555" textLength="48">εt = true strain (6.</text>
<text class="s" x="94" y="172" style="fill:#555" textLength="48">η = viscosity (12.7)</text></g>
<circle cx="97.7" cy="140" r="11" fill="#bbb" stroke="#222" stroke-width="1.6"/>
<circle cx="125.3" cy="146.7" r="10" fill="#aaa"/><path d="M116 151A10 10 0 0 0 135 151" fill="none" stroke="#222" stroke-width="1"/>
<circle cx="152.7" cy="156.7" r="11" fill="#888"/><path d="M142 158A11 11 0 0 0 163 160" fill="none" stroke="#000" stroke-width="2.5"/>
<rect x="62.7" y="121" width="33.3" height="6.5" fill="#fff"/><text x="63.3" y="126.3" font-size="6" style="fill:#ff9999" textLength="32">Transparent</text>
<rect x="109.3" y="129.3" width="40" height="7.4" fill="#fff"/><text x="110.3" y="135" font-size="6" style="fill:#ff3333" textLength="34.7">Transluscent</text>
<text x="159.3" y="144.3" font-size="6" style="fill:#dd4444" textLength="21">Opaque</text>
</g><text class="n" x="238" y="199.7">16</text></g>

<!-- 17 -->
<g transform="translate(1061,440)"><use href="#fr"/><g class="c">
<text class="t" x="24" y="17.7" font-size="11.9" textLength="208.7">OPTICAL PROPERTIES OF METALS:</text>
<text class="t" x="88.7" y="32.3" font-size="11.9" textLength="79.3">ABSORPTION</text>
<text x="30" y="48" font-size="7.5">•</text><text x="35.7" y="48" font-size="7.4" textLength="154"><tspan style="fill:#4444ee">Absorption</tspan> of photons by electron transition:</text>
<text x="18" y="63.7" font-size="5.6" class="gr" textLength="55.3">h - Planck’s constant</text>
<text x="28" y="70.3" font-size="5" class="gr" textLength="43">(6.63 x 10⁻³⁴ J/s)</text>
<g font-size="5.6"><text x="16" y="85.7" style="fill:#aaa" textLength="41.7">ν - frequency of</text><text x="25" y="93" style="fill:#aaa">incident</text><text x="25" y="99.7" style="fill:#aaa">light</text></g>
<text x="55.7" y="115" font-size="9">I<tspan font-size="6.5" dy="1.5">O</tspan></text>
<path transform="translate(67.3,110) rotate(-24.6)" d="M0 0q2.6 -5 5.2 0t5.2 0t5.2 0t5.2 0t5.2 0t5.2 0t5.2 0t5.2 0t5.2 0t5.2 0t5.2 0t5.2 0" fill="none" stroke="#555" stroke-width=".6" marker-end="url(#ak)"/>
<text transform="translate(69,126) rotate(-29)" font-size="6" textLength="47">Incident photon</text>
<text transform="translate(75.7,135.7) rotate(-29)" font-size="6" textLength="28">of energy</text>
<text transform="translate(104,122) rotate(-29)" font-size="8" class="gr">h<tspan class="s">ν</tspan></text>
<line x1="127.3" y1="130.7" x2="127.3" y2="57.7" stroke="#777" stroke-width=".9" marker-end="url(#ak)"/>
<text x="130.7" y="63.3" font-size="6.6" textLength="58.3">Energy of electron</text>
<g stroke="#ccc" stroke-width=".5" fill="#fff"><path d="M132.3 69H145.7M132.3 74.7H145.7M132.3 80.7H145.7M132.3 86.3H145.7M132.3 92.3H145.7M132.3 98.3H145.7"/><circle cx="139" cy="69" r="2"/><circle cx="139" cy="74.7" r="2"/><circle cx="139" cy="80.7" r="2"/><circle cx="139" cy="86.3" r="2"/><circle cx="139" cy="92.3" r="2"/><circle cx="139" cy="98.3" r="2"/></g>
<g stroke="#e9b" stroke-width=".5" fill="#ff3333"><path d="M132.3 104H145.7M132.3 109.7H145.7M132.3 115.3H145.7M132.3 121.3H145.7M132.3 127H145.7M132.3 132.7H145.7"/><circle cx="139" cy="104" r="2.3" stroke="none"/><circle cx="139" cy="109.7" r="2.3" stroke="none"/><circle cx="139" cy="115.3" r="2.3" stroke="none"/><circle cx="139" cy="121.3" r="2.3" stroke="none"/><circle cx="139" cy="127" r="2.3" stroke="none"/><circle cx="139" cy="132.7" r="2.3" stroke="none"/></g>
<text x="152.7" y="76.3" font-size="6.3" style="fill:#aaa" textLength="40.3">unfilled states</text>
<text x="153.7" y="116.3" font-size="6.3" style="fill:#ff8888" textLength="33.3">filled states</text>
<path d="M145.7 104C151 101 153 88 148 80.7" fill="none" stroke="#3333ff" stroke-width=".7" marker-end="url(#ab)"/>
<text x="154.3" y="94.3" font-size="7.4" textLength="61.3"><tspan style="fill:#3333ff">ΔE</tspan> = <tspan style="fill:#33bb55">h<tspan class="s" style="fill:#33bb55">ν</tspan></tspan> required!</text>
<g font-size="7.7"><text x="30" y="163.3">•</text><text x="35.7" y="163.3" textLength="166.3">Metals have a fine succession of energy states.</text>
<text x="30" y="173">•</text><text x="35.7" y="173" font-size="7.5" textLength="149.3">Near-surface electrons absorb visible light.</text></g>
</g><text class="n" x="238" y="199.7">17</text></g>
</svg>
</body></html>
